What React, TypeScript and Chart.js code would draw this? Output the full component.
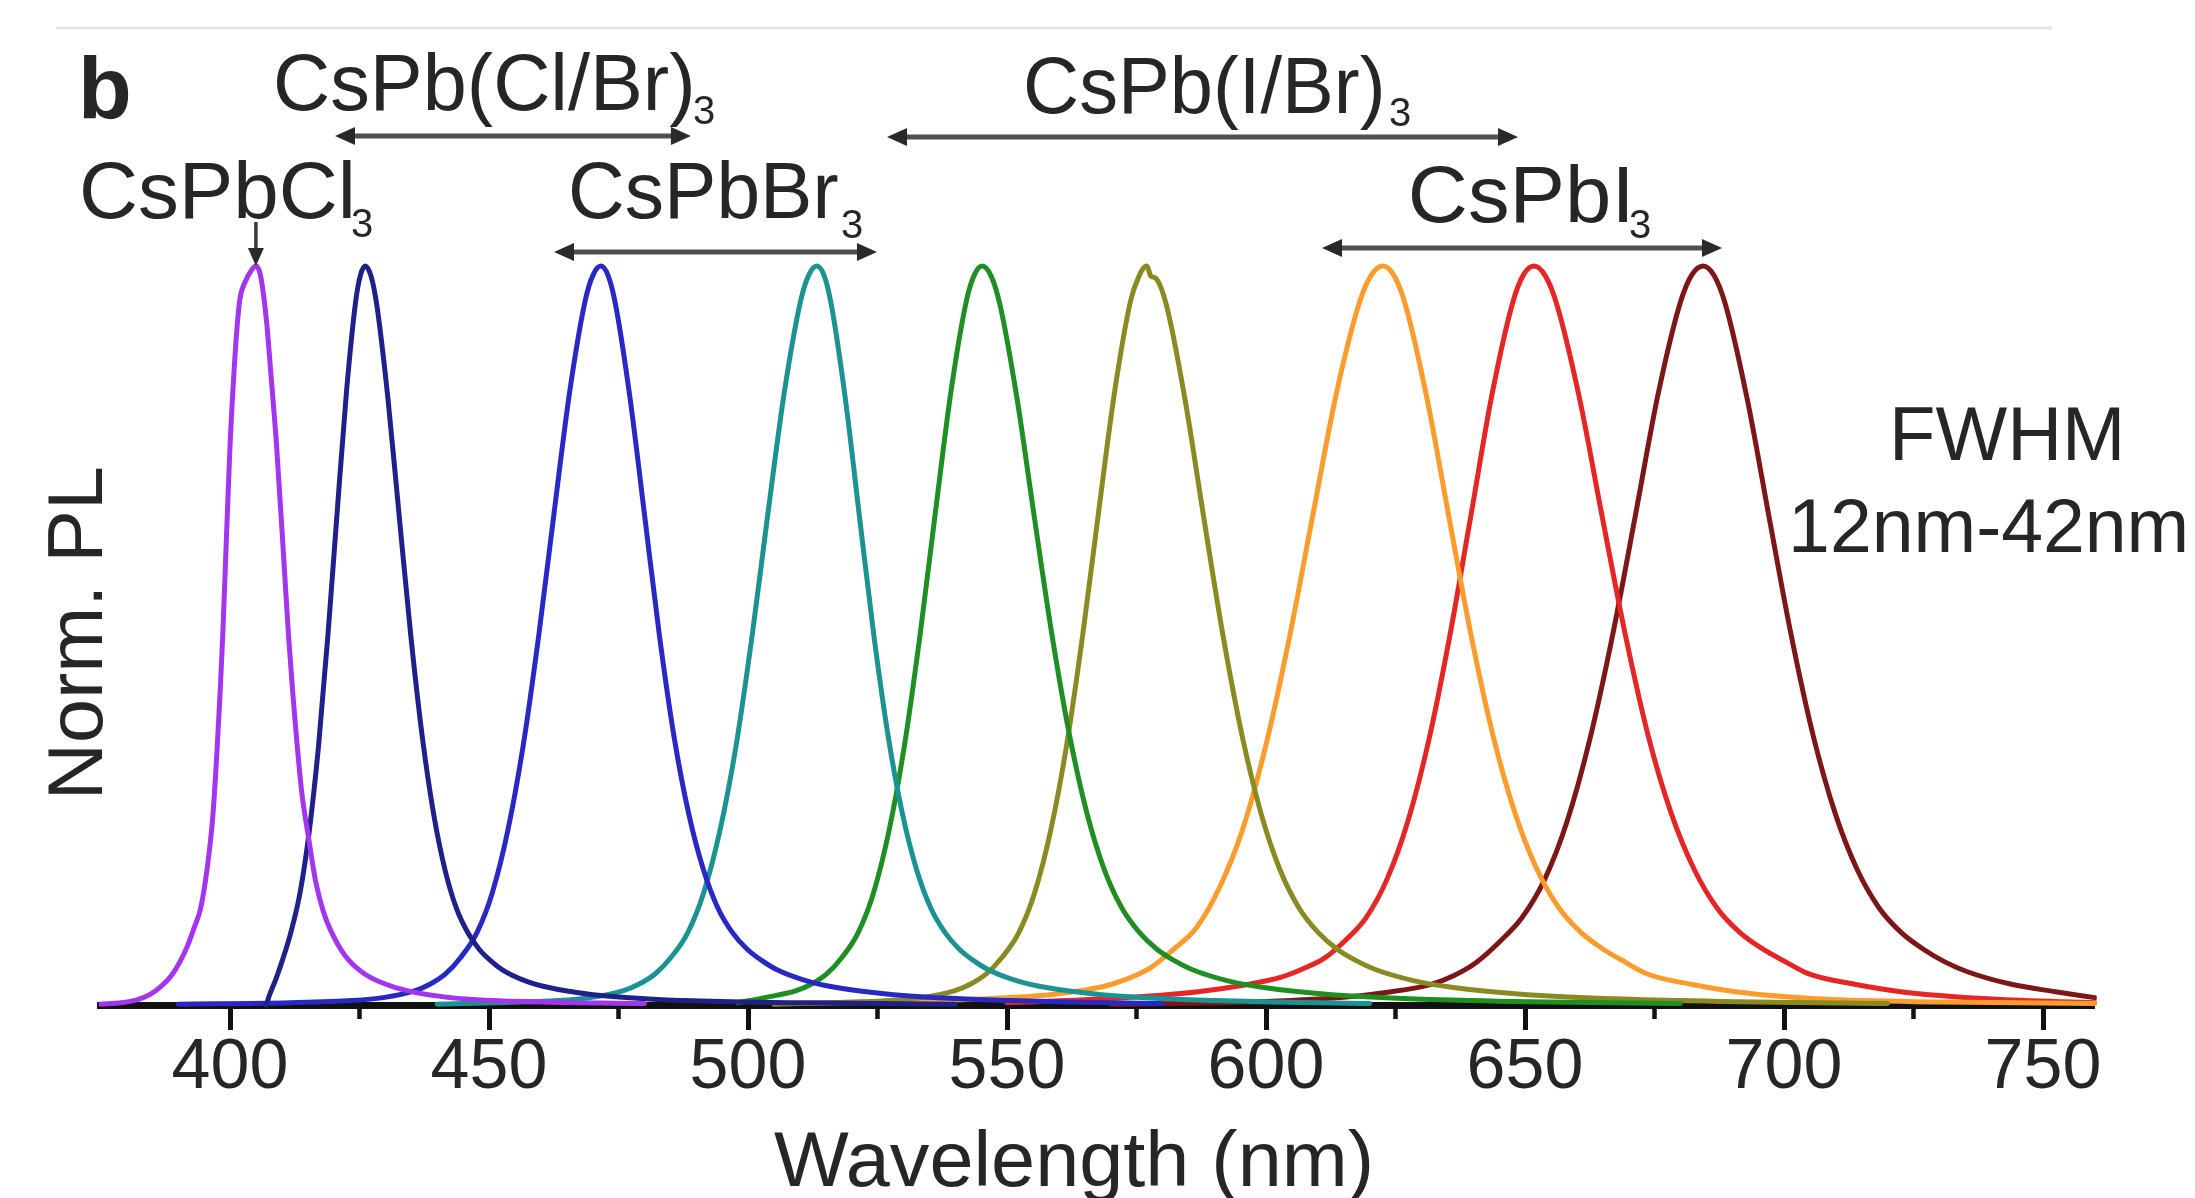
import { useEffect, useRef } from 'react';
import { Chart, registerables } from 'chart.js';

Chart.register(...registerables);

type Pair = [number, number];

// ---- Data: normalized PL spectra, [wavelength nm, norm. PL] ----
const pl405: Pair[] = [
  [375, 0.001], [379, 0.003], [382, 0.007], [384.5, 0.014], [386.8, 0.026], [388.7, 0.04],
  [390.3, 0.058], [391.8, 0.08], [393.1, 0.105], [394.3, 0.13], [395.6, 0.185], [396.7, 0.257],
  [397.5, 0.345], [398.1, 0.424], [398.6, 0.5], [399.3, 0.63], [400.0, 0.756], [400.8, 0.86],
  [401.4, 0.92], [401.9, 0.955], [402.9, 0.978], [404.2, 0.995], [405.0, 1.0], [405.8, 0.99],
  [406.4, 0.965], [407.1, 0.922], [408.0, 0.845], [409.0, 0.756], [410.5, 0.59], [411.3, 0.5],
  [412.1, 0.424], [413.8, 0.291], [415.2, 0.225], [416.6, 0.165], [418.0, 0.127], [419.5, 0.1],
  [422.3, 0.066], [426.0, 0.042], [431.8, 0.024], [441.3, 0.011], [455.0, 0.005], [480.0, 0.002],
];
const pl426: Pair[] = [
  [407.0, 0.0], [407.6, 0.013], [408.8, 0.034], [410.0, 0.058], [411.7, 0.097], [413.5, 0.151],
  [415.3, 0.235], [417.1, 0.351], [418.9, 0.5], [420.7, 0.668], [422.5, 0.831], [424.3, 0.954],
  [425.2, 0.988], [426.1, 1.0], [427.2, 0.987], [428.3, 0.949], [430.5, 0.82], [432.7, 0.659],
  [434.9, 0.5], [437.1, 0.364], [439.3, 0.259], [441.5, 0.183], [443.7, 0.131], [445.9, 0.098],
  [448.1, 0.0755], [450.3, 0.06], [452.5, 0.048], [456.9, 0.033], [461.3, 0.024], [470.1, 0.014],
  [487.7, 0.006], [510, 0.003], [540, 0.001],
];
const pl472: Pair[] = [
  [390, 0.001], [411.6, 0.003], [423.6, 0.006], [429.6, 0.01], [435.6, 0.019], [438.6, 0.028],
  [441.6, 0.042], [444.6, 0.065], [447.6, 0.097], [450.6, 0.151], [453.6, 0.235], [456.6, 0.351],
  [459.6, 0.5], [462.6, 0.668], [465.6, 0.831], [468.6, 0.954], [470.1, 0.988], [471.6, 1.0],
  [473.0, 0.987], [474.4, 0.949], [477.25, 0.82], [480.1, 0.659], [482.9, 0.5], [485.7, 0.364],
  [488.55, 0.259], [491.4, 0.183], [494.2, 0.131], [497.0, 0.098], [499.85, 0.0755], [502.7, 0.06],
  [505.5, 0.048], [511.15, 0.033], [516.8, 0.024], [528.1, 0.014], [550.7, 0.006], [580, 0.002],
];
const pl513: Pair[] = [
  [440, 0.001], [450.8, 0.003], [463.3, 0.006], [469.55, 0.01], [475.8, 0.019], [478.9, 0.028],
  [482.05, 0.042], [485.2, 0.065], [488.3, 0.097], [491.4, 0.151], [494.55, 0.235], [497.7, 0.351],
  [500.8, 0.5], [503.9, 0.668], [507.05, 0.831], [510.2, 0.954], [511.75, 0.988], [513.3, 1.0],
  [514.7, 0.987], [516.05, 0.949], [518.8, 0.82], [521.55, 0.659], [524.3, 0.5], [527.05, 0.364],
  [529.8, 0.259], [532.55, 0.183], [535.3, 0.131], [538.05, 0.098], [540.8, 0.0755], [543.55, 0.06],
  [546.3, 0.048], [551.8, 0.033], [557.3, 0.024], [568.3, 0.014], [590.3, 0.006], [620, 0.002],
];
const pl545: Pair[] = [
  [498, 0.003], [503.2, 0.01], [509.2, 0.019], [512.2, 0.028], [515.2, 0.042], [518.2, 0.065],
  [521.2, 0.097], [524.2, 0.151], [527.2, 0.235], [530.2, 0.351], [533.2, 0.5], [536.2, 0.668],
  [539.2, 0.831], [542.2, 0.954], [543.7, 0.988], [545.2, 1.0], [546.9, 0.987], [548.6, 0.949],
  [551.95, 0.82], [555.3, 0.659], [558.7, 0.5], [562.1, 0.364], [565.45, 0.259], [568.8, 0.183],
  [572.2, 0.131], [575.6, 0.098], [578.95, 0.0755], [582.3, 0.06], [585.7, 0.048], [592.45, 0.033],
  [599.2, 0.024], [612.7, 0.014], [639.7, 0.006], [680, 0.002],
];
const pl577: Pair[] = [
  [505, 0.001], [515.0, 0.003], [527.4, 0.006], [533.6, 0.01], [539.8, 0.019], [542.9, 0.028],
  [546.0, 0.042], [549.1, 0.065], [552.2, 0.097], [555.3, 0.151], [558.4, 0.235], [561.5, 0.351],
  [564.6, 0.5], [567.7, 0.668], [570.8, 0.831], [573.9, 0.954], [575.4, 0.985], [576.2, 0.996],
  [577.0, 1.0], [577.8, 0.986], [578.6, 0.984], [580.7, 0.949], [584.35, 0.82], [588.0, 0.659],
  [591.7, 0.5], [595.4, 0.364], [599.05, 0.259], [602.7, 0.183], [606.4, 0.131], [610.1, 0.098],
  [613.75, 0.0755], [617.4, 0.06], [621.1, 0.048], [628.45, 0.033], [635.8, 0.024], [650.5, 0.014],
  [679.9, 0.006], [720, 0.002],
];
const pl623: Pair[] = [
  [510, 0.002], [532.6, 0.005], [550.6, 0.01], [559.6, 0.015], [568.6, 0.025], [573.1, 0.035],
  [577.6, 0.05], [582.1, 0.075], [586.6, 0.105], [591.1, 0.16], [595.6, 0.24], [600.1, 0.355],
  [604.6, 0.5], [609.1, 0.665], [613.6, 0.828], [618.1, 0.952], [620.35, 0.988], [622.6, 1.0],
  [624.7, 0.987], [626.85, 0.949], [631.1, 0.82], [635.35, 0.659], [639.6, 0.5], [643.85, 0.364],
  [648.1, 0.259], [652.35, 0.183], [656.6, 0.131], [660.85, 0.098], [665.1, 0.0755], [669.35, 0.058],
  [673.6, 0.042], [682.1, 0.028], [690.6, 0.018], [707.6, 0.008], [730, 0.004], [760, 0.002],
];
const pl652: Pair[] = [
  [550, 0.003], [570.7, 0.009], [586.9, 0.018], [595.0, 0.026], [603.1, 0.038], [607.15, 0.049],
  [611.2, 0.063], [615.25, 0.087], [619.3, 0.118], [623.35, 0.17], [627.4, 0.249], [631.45, 0.359],
  [635.5, 0.5], [639.55, 0.662], [643.6, 0.825], [647.65, 0.951], [649.7, 0.988], [651.7, 1.0],
  [653.9, 0.987], [656.1, 0.949], [660.55, 0.82], [664.95, 0.659], [669.4, 0.5], [673.8, 0.364],
  [678.25, 0.259], [682.7, 0.183], [687.1, 0.131], [691.5, 0.098], [695.95, 0.0755], [700.4, 0.058],
  [704.8, 0.042], [713.65, 0.028], [722.5, 0.018], [740.2, 0.008], [760, 0.003],
];
const pl684: Pair[] = [
  [570, 0.001], [596.9, 0.004], [614.4, 0.01], [623.15, 0.017], [631.9, 0.028], [636.3, 0.04],
  [640.65, 0.058], [645.0, 0.085], [649.4, 0.118], [653.8, 0.17], [658.15, 0.249], [662.5, 0.359],
  [666.9, 0.5], [671.3, 0.662], [675.65, 0.825], [680.0, 0.951], [682.2, 0.988], [684.4, 1.0],
  [686.5, 0.987], [688.65, 0.949], [692.9, 0.82], [697.15, 0.659], [701.4, 0.5], [705.65, 0.364],
  [709.9, 0.259], [714.15, 0.183], [718.4, 0.131], [722.65, 0.098], [726.9, 0.0755], [731.15, 0.058],
  [735.4, 0.045], [743.9, 0.028], [752.4, 0.018], [760, 0.01],
];

const majorTicks = [400, 450, 500, 550, 600, 650, 700, 750];
const minorTicks = [425, 475, 525, 575, 625, 675, 725];
const X_MIN = 375;
const X_MAX = 760;

const xTitle = 'Wavelength (nm)';
const yTitle = 'Norm. PL';
const panelLabel = 'b';

// ---- Styling / layout (kept apart from the data) ----
const FONT = '"Liberation Sans", Arial, Helvetica, sans-serif';
const INK = '#262626';

const series = [
  { name: 'CsPbCl3', data: pl405, color: '#a335ef' },
  { name: 'CsPb(Cl/Br)3 426', data: pl426, color: '#20208a' },
  { name: 'CsPb(Cl/Br)3 472', data: pl472, color: '#2828c4' },
  { name: 'CsPbBr3', data: pl513, color: '#1b9393' },
  { name: 'CsPb(I/Br)3 545', data: pl545, color: '#1f8f23' },
  { name: 'CsPb(I/Br)3 577', data: pl577, color: '#8a8a22' },
  { name: 'CsPb(I/Br)3 623', data: pl623, color: '#fb9c2c' },
  { name: 'CsPbI3 652', data: pl652, color: '#e42626' },
  { name: 'CsPbI3 684', data: pl684, color: '#7d1717' },
];

// text notes in data space: left edge nm, right edge nm, baseline value
const textNotes = [
  { text: 'CsPb(Cl/Br)', nm: 409.07, nmEnd: 488.99, v: 1.2111, size: 80 },
  { text: 'CsPbCl', nm: 371.62, nmEnd: 423.36, v: 1.065, size: 80 },
  { text: 'CsPbBr', nm: 466.02, nmEnd: 517.37, v: 1.065, size: 80 },
  { text: 'CsPb(I/Br)', nm: 553.86, nmEnd: 622.2, v: 1.207, size: 80 },
  { text: 'CsPbI', nm: 628.19, nmEnd: 669.69, v: 1.0595, size: 80 },
  { text: 'FWHM', nm: 721.43, nmEnd: 764.86, v: 0.7375, size: 76 },
  { text: '12nm-42nm', nm: 701.74, nmEnd: 777.41, v: 0.613, size: 76 },
];
const subNotes = [
  { text: '3', nm: 489.58, v: 1.1922, size: 40 },
  { text: '3', nm: 423.55, v: 1.0392, size: 40 },
  { text: '3', nm: 518.15, v: 1.0379, size: 40 },
  { text: '3', nm: 623.94, v: 1.1894, size: 40 },
  { text: '3', nm: 670.27, v: 1.0379, size: 40 },
];
const rangeArrows = [
  { from: 420.27, to: 488.99, v: 1.1759 },
  { from: 462.55, to: 524.9, v: 1.0189 },
  { from: 526.83, to: 648.65, v: 1.1746 },
  { from: 610.81, to: 688.03, v: 1.0244 },
];
const pointerArrow = { nm: 405.0, vFrom: 1.0595, vTo: 1.0 };

function inkText(
  ctx: CanvasRenderingContext2D,
  text: string,
  left: number,
  baseline: number,
  size: number,
  bold: boolean,
  inkWidth?: number,
) {
  ctx.save();
  ctx.font = `${bold ? 'bold ' : ''}${size}px ${FONT}`;
  ctx.textAlign = 'left';
  ctx.textBaseline = 'alphabetic';
  ctx.fillStyle = INK;
  const m = ctx.measureText(text);
  const w = m.actualBoundingBoxLeft + m.actualBoundingBoxRight;
  let sx = 1;
  if (inkWidth && w > 0) sx = Math.max(0.85, Math.min(1.2, inkWidth / w));
  ctx.translate(left, baseline);
  ctx.scale(sx, 1);
  ctx.fillText(text, m.actualBoundingBoxLeft, 0);
  ctx.restore();
}

const notesPlugin = {
  id: 'notes',
  afterDraw(chart: any) {
    const ctx: CanvasRenderingContext2D = chart.ctx;
    const xs = chart.scales.x;
    const ys = chart.scales.y;
    const px = (nm: number) => xs.getPixelForValue(nm);
    const py = (v: number) => ys.getPixelForValue(v);

    // minor ticks
    ctx.save();
    ctx.strokeStyle = '#111';
    ctx.lineWidth = 4.5;
    const top = xs.top;
    minorTicks.forEach((t) => {
      const x = px(t);
      ctx.beginPath();
      ctx.moveTo(x, top + 2);
      ctx.lineTo(x, top + 14);
      ctx.stroke();
    });
    ctx.restore();

    // faint rule at the top of the panel
    ctx.save();
    ctx.strokeStyle = '#e6e6e6';
    ctx.lineWidth = 3;
    ctx.beginPath();
    ctx.moveTo(56, 28);
    ctx.lineTo(2052, 28);
    ctx.stroke();
    ctx.restore();

    // range arrows
    const headLen = 20;
    const headHalf = 9;
    rangeArrows.forEach((a) => {
      const x1 = px(a.from);
      const x2 = px(a.to);
      const y = py(a.v);
      ctx.save();
      ctx.strokeStyle = '#505050';
      ctx.lineWidth = 5;
      ctx.beginPath();
      ctx.moveTo(x1 + headLen * 0.6, y);
      ctx.lineTo(x2 - headLen * 0.6, y);
      ctx.stroke();
      ctx.fillStyle = '#2a2a2a';
      ctx.beginPath();
      ctx.moveTo(x1, y);
      ctx.lineTo(x1 + headLen, y - headHalf);
      ctx.lineTo(x1 + headLen, y + headHalf);
      ctx.closePath();
      ctx.fill();
      ctx.beginPath();
      ctx.moveTo(x2, y);
      ctx.lineTo(x2 - headLen, y - headHalf);
      ctx.lineTo(x2 - headLen, y + headHalf);
      ctx.closePath();
      ctx.fill();
      ctx.restore();
    });

    // pointer arrow to the CsPbCl3 peak
    {
      const x = px(pointerArrow.nm);
      const y1 = py(pointerArrow.vFrom);
      const y2 = py(pointerArrow.vTo);
      ctx.save();
      ctx.strokeStyle = '#3a3a3a';
      ctx.lineWidth = 3.5;
      ctx.beginPath();
      ctx.moveTo(x, y1);
      ctx.lineTo(x, y2 - 14);
      ctx.stroke();
      ctx.fillStyle = '#2a2a2a';
      ctx.beginPath();
      ctx.moveTo(x, y2);
      ctx.lineTo(x - 8, y2 - 18);
      ctx.lineTo(x + 8, y2 - 18);
      ctx.closePath();
      ctx.fill();
      ctx.restore();
    }

    // text notes
    textNotes.forEach((n) => {
      const l = px(n.nm);
      const r = px(n.nmEnd);
      inkText(ctx, n.text, l, py(n.v), n.size, false, r - l);
    });
    subNotes.forEach((n) => {
      inkText(ctx, n.text, px(n.nm), py(n.v), n.size, false);
    });

    // panel label
    inkText(ctx, panelLabel, 83, 118, 88, true);

    // x axis title
    inkText(ctx, xTitle, 774, 1186, 78, false, 596);

    // y axis title (rotated)
    ctx.save();
    ctx.translate(102, 631);
    ctx.rotate(-Math.PI / 2);
    ctx.font = `77px ${FONT}`;
    const m = ctx.measureText(yTitle);
    const w = m.actualBoundingBoxLeft + m.actualBoundingBoxRight;
    const sx = w > 0 ? Math.max(0.85, Math.min(1.2, 326 / w)) : 1;
    ctx.scale(sx, 1);
    ctx.fillStyle = INK;
    ctx.textAlign = 'left';
    ctx.textBaseline = 'alphabetic';
    ctx.fillText(yTitle, -w / 2 + m.actualBoundingBoxLeft, 0);
    ctx.restore();
  },
};

export default function App() {
  const ref = useRef<HTMLCanvasElement | null>(null);

  useEffect(() => {
    const canvas = ref.current;
    if (!canvas) return;
    const chart = new Chart(canvas, {
      type: 'line',
      data: {
        datasets: series.map((s) => ({
          label: s.name,
          data: s.data.map(([x, y]) => ({ x, y })),
          borderColor: s.color,
          backgroundColor: s.color,
          borderWidth: 5,
          borderJoinStyle: 'round',
          borderCapStyle: 'round',
          pointRadius: 0,
          pointHoverRadius: 0,
          fill: false,
          cubicInterpolationMode: 'monotone',
          clip: { left: 2, right: 2, top: false, bottom: 6 },
        })) as any,
      },
      options: {
        responsive: false,
        animation: false,
        devicePixelRatio: 1,
        events: [],
        layout: { padding: { left: 100.5, right: 100.2, top: 266, bottom: 0 } },
        plugins: {
          legend: { display: false },
          tooltip: { enabled: false },
          title: { display: false },
        },
        scales: {
          x: {
            type: 'linear',
            position: 'bottom',
            min: X_MIN,
            max: X_MAX,
            afterBuildTicks: (axis: any) => {
              axis.ticks = majorTicks.map((v) => ({ value: v }));
            },
            afterFit: (axis: any) => {
              axis.height = 193;
            },
            grid: {
              display: true,
              drawOnChartArea: false,
              drawTicks: true,
              tickLength: 25,
              tickWidth: 5,
              tickColor: '#111',
            },
            border: { display: true, color: '#111', width: 7 },
            ticks: {
              autoSkip: false,
              maxRotation: 0,
              minRotation: 0,
              padding: 4,
              color: INK,
              font: { family: FONT, size: 70, lineHeight: 1 },
              callback: (v: any) => String(v),
            },
          },
          y: { type: 'linear', min: 0, max: 1, display: false },
        },
      } as any,
      plugins: [notesPlugin],
    });
    return () => chart.destroy();
  }, []);

  return (
    <div style={{ position: 'fixed', left: 0, top: 0, width: 2195, height: 1198, background: '#ffffff' }}>
      <canvas ref={ref} width={2195} height={1198} style={{ display: 'block', width: 2195, height: 1198 }} />
    </div>
  );
}
